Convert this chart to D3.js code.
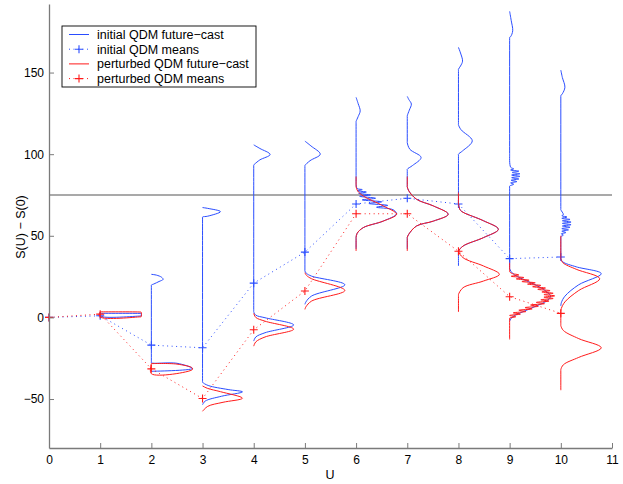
<!DOCTYPE html>
<html lang="en">
<head>
<meta charset="utf-8">
<script src="https://d3js.org/d3.v7.min.js"></script>
<style>
  body { margin: 0; background: #fff; }
  text { font-family: "Liberation Sans", Arial, sans-serif; }
</style>
</head>
<body>
<div id="chart"></div>
<script>
// step index and the two series of means
const steps = [0, 1, 2, 3, 4, 5, 6, 7, 8, 9, 10];
const initMeans = [0, 1, -17, -18.6, 21, 40, 69.5, 73, 69.5, 36, 37];
const pertMeans = [0, 2, -31.5, -49.7, -7.6, 16.2, 63.5, 63.5, 40.5, 12.7, 2.5];
const xTicks = [0, 1, 2, 3, 4, 5, 6, 7, 8, 9, 10, 11];
const yTicks = [-50, 0, 50, 100, 150];
const threshold = 75;
const legendLabels = ["initial QDM future\u2212cast", "initial QDM means",
                      "perturbed QDM future\u2212cast", "perturbed QDM means"];

// future-cast profiles: [offset to the right (in U), S(U) - S(0)]
const initCast1 = [[0,2.5],[0.78,2.45],[0.8,2.4],[0.8,0.9],[0.78,0.85],[0,0.8],[0,2.5]];
const initCast2 = [[0,26.4],[0.1,25.9],[0.2,24.6],[0.23,23.3],[0.15,22],[0.05,20.5],[0,19.8],
  [0,19.2],[0,-27.2],[0,-27.8],[0.5,-28.1],[0.8,-31.3],[0,-33]];
const initCast3 = [[0,67.3],[0.1,66.8],[0.35,64.8],[0.1,62],[0,61.5],[0,60.9],[0,-39.1],
  [0,-39.7],[0.11,-41.7],[0.5,-44.2],[0.78,-45.6],[0.37,-48.3],[0.05,-51.3],[0,-53.5]];
const initCast4 = [[0,105.7],[0.12,103.5],[0.32,99.8],[0.12,96.5],[0.02,94],[0,93.4],[0,92.8],
  [0,4.1],[0,3.5],[0.04,1.4],[0.22,-0.2],[0.78,-4.6],[0.22,-9.4],[0.04,-12],[0,-14.5]];
const initCast5 = [[0,108],[0.12,105],[0.3,100],[0.1,96],[0,93],[0,92.4],
  [0,29],[0,28.4],[0.03,27],[0.13,25.3],[0.78,20],[0.13,13.1],[0.02,9.5],[0,8]];
const initCast6 = [[0,134.8],[0.04,131],[0.08,126.5],[0.04,123],[0,120],[0,119.4],[0,82.6],[0,82],
  [0.02,79],[0.12,78.3],[0.03,77.6],[0.2,76.8],[0.05,76],[0.28,75],[0.07,74.2],[0.38,73],
  [0.12,72],[0.5,70.8],[0.25,69.8],[0.62,68.6],[0.4,67.5],[0.72,66],[0.79,63.5],
  [0.53,59],[0.14,55],[0.02,51.5],[0,49],[0,48.4],[0,42.6],[0,42]];
const initCast7 = [[0,135.4],[0.03,133.5],[0.08,130.7],[0.04,127],[0,123.5],[0,122.9],[0,107.6],[0,107],
  [0.05,103],[0.27,98],[0.1,93],[0,90.8],[0,90.2],[0,80.6],[0,80],[0.03,77.5],[0.18,72.4],[0.51,68.3],
  [0.8,63.2],[0.51,59],[0.18,56],[0.03,51],[0,49],[0,48.4],[0,42.6],[0,42]];
const initCast8 = [[0,165.4],[0.04,162],[0.08,157],[0.04,154],[0,152],[0,151.4],[0,118.6],[0,118],
  [0.05,115],[0.27,108.2],[0.08,102],[0,100],[0,99.4],[0,70.6],[0,70],[0.03,66],[0.09,64.4],[0.49,59.2],
  [0.78,54],[0.49,48.9],[0.09,43.7],[0,40.7],[0,40.1],[0,32.1],[0,31.5]];
const initCast9 = [[0,187.5],[0.03,182],[0.06,175.6],[0.02,172],[0,171.6],[0,171],[0,100.6],[0,100],
  [0.02,92],[0.08,91],[0.02,90.3],[0.18,89.6],[0.05,88.8],[0.2,88],[0.04,87.2],[0.2,86.4],
  [0.04,85.6],[0.18,84.8],[0.03,84],[0.14,83.2],[0.02,82.4],[0.08,81.6],[0,80.5],[0,79.9],
  [0,30.6],[0,30],[0.03,28],[0.1,26],[0.22,24],[0.43,21],[0.62,18],[0.75,15],[0.8,13],[0.72,10],
  [0.52,7],[0.3,4],[0.12,1.5],[0.03,-0.5],[0,-2.3]];
const initCast10 = [[0,151.5],[0.03,147],[0.08,141],[0.03,137],[0,135.8],[0,135.2],[0,66.6],[0,66],
  [0.05,63],[0.02,62.3],[0.12,61.5],[0.02,60.7],[0.18,60],[0.03,59.2],[0.2,58.4],[0.03,57.6],
  [0.2,56.8],[0.03,56],[0.18,55.2],[0.02,54.4],[0.15,53.6],[0.02,52.8],[0.1,52],[0.01,51.2],
  [0.05,50.4],[0,49.5],[0,48.9],[0,36.6],[0,36],[0.04,34],[0.3,31],[0.79,26.8],[0.35,20],[0.08,13],
  [0.01,9],[0,7]];

const pertCast1 = [[0,3.4],[0.78,3.3],[0.8,3.2],[0.8,0.4],[0.78,0.35],[0,0.3],[0,3.4]];
const pertCast2 = [[0,-28.3],[0.5,-28.6],[0.8,-31],[0.8,-32],[0,-34.5],[0,-28.3]];
const pertCast3 = [[0,-42],[0.1,-43.5],[0.35,-45.5],[0.78,-49.5],[0.4,-52],[0.1,-54.5],[0,-57.5]];
const pertCast4 = [[0,2.5],[0.04,0],[0.22,-2.3],[0.78,-7.2],[0.22,-12],[0.04,-15],[0,-17.6]];
const pertCast5 = [[0,27.4],[0.03,25.8],[0.13,23.7],[0.78,16.5],[0.13,10],[0.02,6.5],[0,4.9]];
const pertCast6 = [[0,86.3],[0,85.7],[0,80.6],[0,80],[0.03,77.5],[0.14,74.4],[0.53,68.3],[0.79,63.2],
  [0.53,59],[0.14,55],[0.02,51.5],[0,49],[0,48.4],[0,41.3],[0,40.7]];
const pertCast7 = [[0,86.3],[0,85.7],[0,80.6],[0,80],[0.03,77.5],[0.18,72.4],[0.51,68.3],[0.8,63.2],
  [0.51,59],[0.18,56],[0.03,51],[0,49],[0,48.4],[0,41.3],[0,40.7]];
const pertCast8 = [[0,76.5],[0,75.9],[0,70.6],[0,70],[0.03,66],[0.09,64.4],[0.49,59.2],[0.78,54],
  [0.49,48.9],[0.09,43.7],[0.01,40.5],[0.09,36.6],[0.49,31.5],[0.8,26.4],[0.49,22.3],[0.09,18.2],
  [0,14],[0,13.4],[0,3.9],[0,3.3]];
const pertCast9 = [[0,33.5],[0,32.9],[0,28.6],[0,28],[0.04,27],
  [0.18,26],[0.03,25.2],[0.28,24.4],[0.13,23.6],[0.38,22.8],[0.24,22],[0.5,21.2],[0.35,20.4],
  [0.61,19.6],[0.45,18.8],[0.7,18],[0.55,17.2],[0.79,16.4],[0.63,15.6],[0.85,14.8],[0.67,14],
  [0.88,13.2],[0.67,12.4],[0.85,11.6],[0.61,10.8],[0.77,10],[0.52,9.2],[0.68,8.4],[0.41,7.6],
  [0.56,6.8],[0.3,6],[0.44,5.2],[0.18,4.4],[0.32,3.6],[0.07,2.8],[0.21,2],[0,1.2],[0.12,0.4],
  [0,-0.4],[0,-1],[0,-12.9],[0,-13.5]];
const pertCast10 = [[0,50],[0,49.4],[0,36.6],[0,36],[0.04,33.5],[0.3,29.5],[0.76,23.7],[0.35,16.5],
  [0.08,9.5],[0.01,5.5],[0,3.9],[0,3.3],[0,-4.4],[0,-5],[0.05,-8],[0.35,-13],[0.79,-18.6],[0.35,-24.5],
  [0.05,-29],[0,-32],[0,-32.6],[0,-44],[0,-44.6]];

const initCasts = [[1,initCast1],[2,initCast2],[3,initCast3],[4,initCast4],[5,initCast5],
  [6,initCast6],[7,initCast7],[8,initCast8],[9,initCast9],[10,initCast10]];
const pertCasts = [[1,pertCast1],[2,pertCast2],[3,pertCast3],[4,pertCast4],[5,pertCast5],
  [6,pertCast6],[7,pertCast7],[8,pertCast8],[9,pertCast9],[10,pertCast10]];

const W = 623, H = 484;
const BLUE = "#2a4dff", RED = "#ff1a1a", AXIS = "#7a7a7a";

const svg = d3.select("#chart").append("svg")
  .attr("width", W).attr("height", H);

const x = d3.scaleLinear().domain([0, 11]).range([49, 612]);
const y = d3.scaleLinear().domain([-80, 192]).range([448, 4]);

// threshold line
svg.append("line")
  .attr("x1", x(0)).attr("x2", x(11))
  .attr("y1", y(threshold)).attr("y2", y(threshold))
  .attr("stroke", "#555").attr("stroke-width", 1.2);

function drawCasts(casts, color) {
  casts.forEach(([u, pts]) => {
    const line = d3.line()
      .x(d => x(u + d[0]))
      .y(d => y(d[1]))
      .curve(d3.curveCatmullRom.alpha(0.5));
    svg.append("path")
      .attr("d", line(pts))
      .attr("fill", "none")
      .attr("stroke", color)
      .attr("stroke-width", 1);
  });
}

function drawMeans(means, color) {
  const line = d3.line().x((d, i) => x(steps[i])).y(d => y(d));
  svg.append("path")
    .attr("d", line(means))
    .attr("fill", "none")
    .attr("stroke", color)
    .attr("stroke-width", 1)
    .attr("stroke-dasharray", "1,3.5");
  svg.selectAll(null)
    .data(means)
    .enter()
    .append("path")
    .attr("d", (d, i) => {
      const cx = x(steps[i]), cy = y(d);
      return `M${cx - 4},${cy}H${cx + 4}M${cx},${cy - 4}V${cy + 4}`;
    })
    .attr("stroke", color)
    .attr("stroke-width", 1.1);
}

drawCasts(initCasts, BLUE);
drawMeans(initMeans, BLUE);
drawCasts(pertCasts, RED);
drawMeans(pertMeans, RED);

// axes with inward ticks, no box
const xAxis = d3.axisBottom(x).tickValues(xTicks).tickSizeInner(-5).tickSizeOuter(0).tickPadding(7);
const yAxis = d3.axisLeft(y).tickValues(yTicks).tickSizeInner(-5).tickSizeOuter(0).tickPadding(5);

const gx = svg.append("g")
  .attr("transform", "translate(0," + y(-80) + ")")
  .call(xAxis);
const gy = svg.append("g")
  .attr("transform", "translate(" + x(0) + ",0)")
  .call(yAxis);
[gx, gy].forEach(g => {
  g.select(".domain").attr("stroke", AXIS).attr("stroke-width", 1.3);
  g.selectAll(".tick line").attr("stroke", AXIS);
  g.selectAll(".tick text").attr("fill", "#000").style("font-size", "12px")
    .style("font-family", '"Liberation Sans", Arial, sans-serif');
});

svg.append("text")
  .attr("x", 330).attr("y", 479)
  .attr("text-anchor", "middle")
  .style("font-size", "12.5px")
  .text("U");

svg.append("text")
  .attr("transform", "translate(25,227) rotate(-90)")
  .attr("text-anchor", "middle")
  .style("font-size", "12.5px")
  .text("S(U) \u2212 S(0)");

// legend
const legend = svg.append("g");
legend.append("rect")
  .attr("x", 62).attr("y", 26)
  .attr("width", 194).attr("height", 61)
  .attr("fill", "#fff").attr("stroke", "#000").attr("stroke-width", 0.9);

const legendColors = [BLUE, BLUE, RED, RED];
legendLabels.forEach((lab, i) => {
  const ly = 34.5 + i * 14.7;
  const c = legendColors[i];
  const isMean = i % 2 === 1;
  legend.append("line")
    .attr("x1", 69).attr("x2", 89).attr("y1", ly).attr("y2", ly)
    .attr("stroke", c).attr("stroke-width", 1)
    .attr("stroke-dasharray", isMean ? "1,3.5" : null);
  if (isMean) {
    legend.append("path")
      .attr("d", `M75,${ly}H83M79,${ly - 4}V${ly + 4}`)
      .attr("stroke", c).attr("stroke-width", 1.1);
  }
  legend.append("text")
    .attr("x", 97).attr("y", ly + 4.3)
    .style("font-size", "12.5px")
    .text(lab);
});
</script>
</body>
</html>
